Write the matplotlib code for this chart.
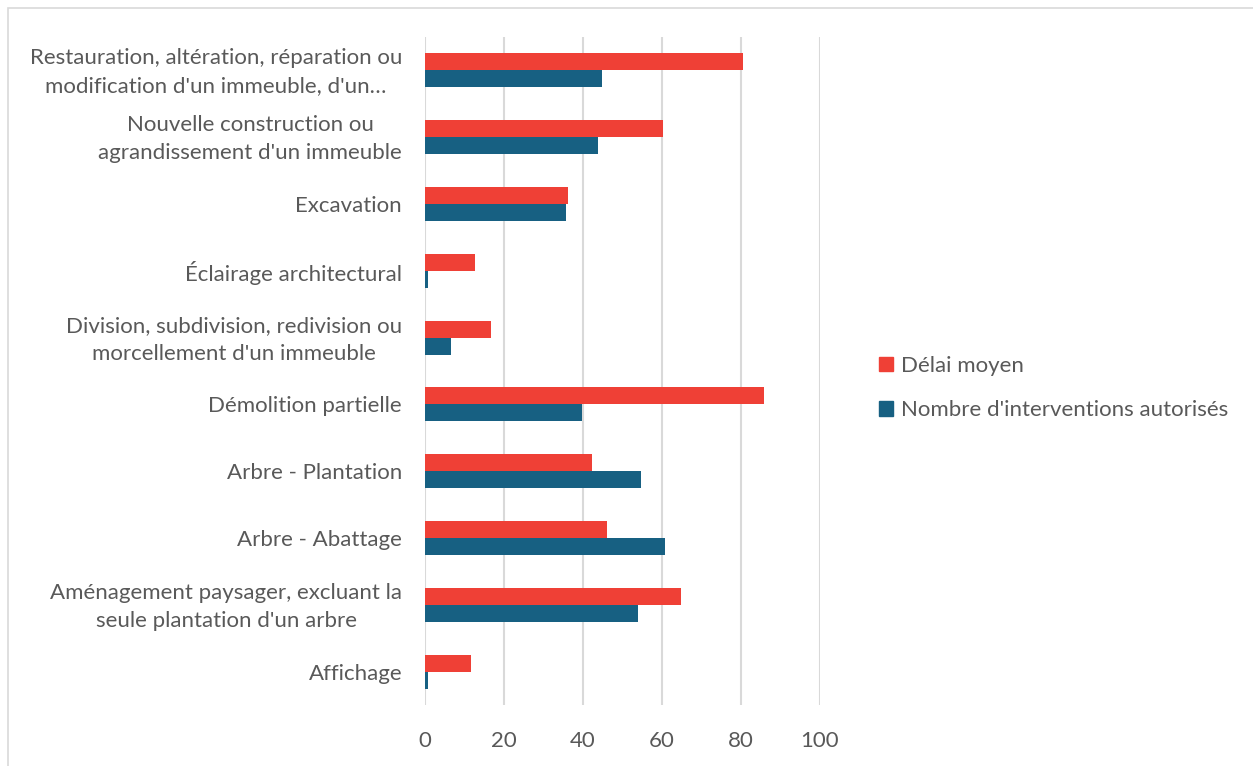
import matplotlib.pyplot as plt
import matplotlib.transforms as mtransforms
import numpy as np
from matplotlib.patches import Patch, Rectangle

# categories, top to bottom as in the chart
categories = [
    "Restauration, altération, réparation ou\nmodification d'un immeuble, d'un…",
    "Nouvelle construction ou\nagrandissement d'un immeuble",
    "Excavation",
    "Éclairage architectural",
    "Division, subdivision, redivision ou\nmorcellement d'un immeuble",
    "Démolition partielle",
    "Arbre - Plantation",
    "Arbre - Abattage",
    "Aménagement paysager, excluant la\nseule plantation d'un arbre",
    "Affichage",
]
delai_moyen = [80.6, 60.2, 36.1, 12.7, 16.6, 85.9, 42.4, 46.0, 64.9, 11.7]
nb_interventions = [44.8, 43.9, 35.8, 0.8, 6.7, 39.8, 54.8, 60.8, 53.8, 0.8]
x_ticks = [0, 20, 40, 60, 80, 100]

red = "#EF4036"
blue = "#176082"
text_col = "#595959"
grid_col = "#D9D9D9"

plt.rcParams["font.family"] = ["Lato", "DejaVu Sans"]

fig = plt.figure(figsize=(12.53, 7.66), dpi=100)
ax = fig.add_axes([425 / 1253, 1 - 705 / 766, (820 - 425) / 1253, (705 - 37) / 766])

n = len(categories)
y = np.arange(n)
h = 0.255
ax.barh(y - h / 2, delai_moyen, height=h, color=red, zorder=3)
ax.barh(y + h / 2, nb_interventions, height=h, color=blue, zorder=3)

ax.set_ylim(n - 0.5, -0.5)
ax.set_xlim(0, 100)
ax.set_xticks(x_ticks)
ax.set_xticklabels([str(t) for t in x_ticks])
ax.set_yticks(y)
ax.set_yticklabels(categories, multialignment="center", linespacing=1.5)
ax.tick_params(axis="both", length=0, labelsize=16, labelcolor=text_col)
ax.tick_params(axis="y", pad=16.5)
ax.tick_params(axis="x", pad=19)

# wrapped labels sit a little higher in the original
shift = mtransforms.ScaledTranslation(0, 4 / 100, fig.dpi_scale_trans)
for lab in ax.get_yticklabels():
    if "\n" in lab.get_text():
        lab.set_transform(lab.get_transform() + shift)

ax.grid(axis="x", color=grid_col, linewidth=1.5, zorder=0)
for s in ax.spines.values():
    s.set_visible(False)

# outer chart border
fig.patches.append(Rectangle((8 / 1253, -0.01), 1.1, 1 - 8 / 766 + 0.01,
                             transform=fig.transFigure, fill=False,
                             edgecolor="#D9D9D9", linewidth=1.2))

handles = [Patch(color=red), Patch(color=blue)]
fig.legend(handles, ["Délai moyen", "Nombre d'interventions autorisés"],
           loc="center left", bbox_to_anchor=(859 / 1253, 1 - 388 / 766),
           frameon=False, fontsize=16, labelcolor=text_col,
           handlelength=0.65, handleheight=0.65, handletextpad=0.35,
           labelspacing=1.1)

fig.savefig("out.png", dpi=100)
